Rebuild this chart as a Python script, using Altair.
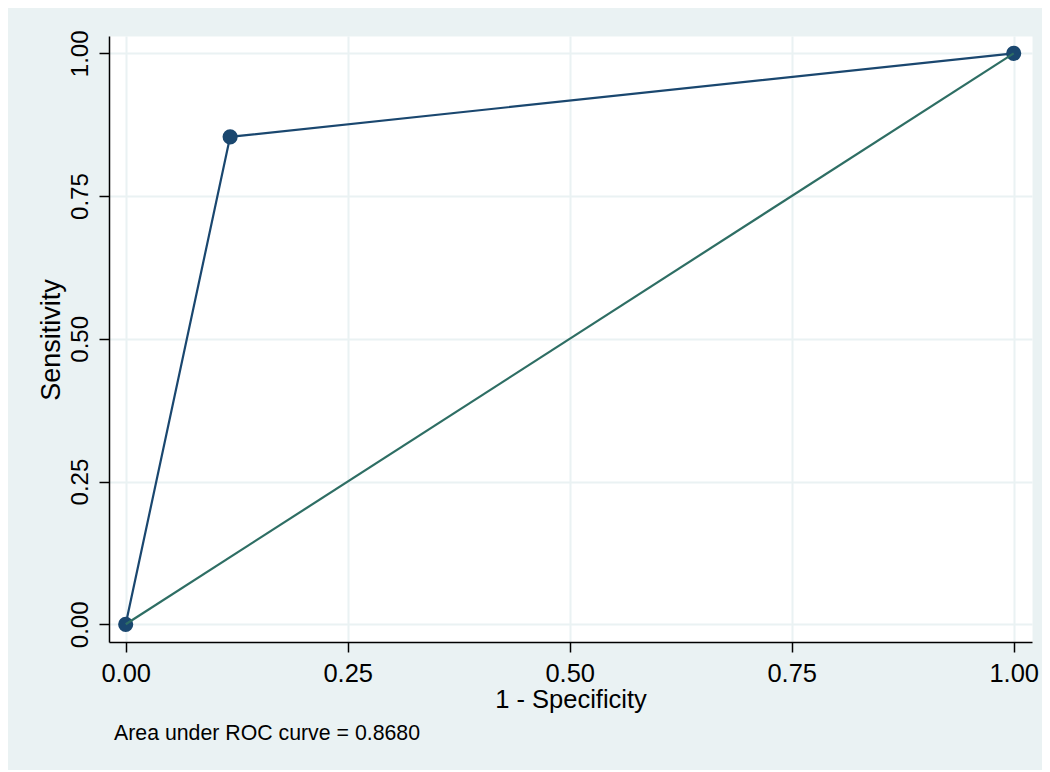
import altair as alt
import pandas as pd

# ROC points (1 - specificity, sensitivity)
fpr = [0.0, 0.1176, 1.0]
sens = [0.0, 0.8537, 1.0]
# reference (chance) line
ref_x = [0.0, 1.0]
ref_y = [0.0, 1.0]
tick_vals = [0.0, 0.25, 0.5, 0.75, 1.0]
note = "Area under ROC curve = 0.8680"

NAVY = "#1a476f"
TEAL = "#2e6e64"
BG = "#EAF2F3"
FONT = "Liberation Sans"

roc = pd.DataFrame({"fpr": fpr, "sens": sens})
ref = pd.DataFrame({"fpr": ref_x, "sens": ref_y})

xs = alt.Scale(domain=[-0.0188, 1.0206], nice=False, zero=False)
ys = alt.Scale(domain=[-0.031, 1.0303], nice=False, zero=False)

x_axis = alt.Axis(
    values=tick_vals, format=".2f", grid=True, gridColor=BG, gridWidth=2,
    domainColor="black", domainWidth=1.5, tickColor="black", tickWidth=1.5,
    tickSize=10, labelFont=FONT, labelFontSize=25.5, labelColor="black",
    labelPadding=9, labelFlush=False, labelOverlap=False,
    title="1 - Specificity", titleFont=FONT, titleFontSize=25.5,
    titleFontWeight="normal", titleColor="black", titleX=461.5, titleY=65,
    titleAlign="center", titleBaseline="alphabetic",
)
y_axis = alt.Axis(
    values=tick_vals, format=".2f", grid=True, gridColor=BG, gridWidth=2,
    domainColor="black", domainWidth=1.5, tickColor="black", tickWidth=1.5,
    tickSize=10, labelFont=FONT, labelFontSize=24, labelColor="black",
    labelAngle=270, labelAlign="center", labelBaseline="alphabetic",
    labelPadding=12, labelFlush=False, labelOverlap=False,
    title="Sensitivity", titleFont=FONT, titleFontSize=27,
    titleFontWeight="normal", titleColor="black", titleAngle=270,
    titleX=-50, titleY=303.5, titleAlign="center", titleBaseline="alphabetic",
)

base = alt.Chart(roc).encode(
    x=alt.X("fpr:Q", scale=xs, axis=x_axis),
    y=alt.Y("sens:Q", scale=ys, axis=y_axis),
)
roc_line = base.mark_line(color=NAVY, strokeWidth=2.2)
roc_pts = base.mark_point(filled=True, color=NAVY, size=230, opacity=1, shape="circle")

ref_line = alt.Chart(ref).mark_line(color=TEAL, strokeWidth=2.2).encode(
    x=alt.X("fpr:Q", scale=xs),
    y=alt.Y("sens:Q", scale=ys),
)

note_txt = alt.Chart(pd.DataFrame({"t": [note]})).mark_text(
    align="left", baseline="alphabetic", font=FONT, fontSize=21.3, color="black"
).encode(x=alt.value(5), y=alt.value(704), text="t:N")

chart = alt.layer(roc_line, roc_pts, ref_line, note_txt).properties(
    width=923, height=606, background=BG,
    padding={"left": 101, "top": 28, "right": 10, "bottom": 128},
    autosize=alt.AutoSizeParams(type="none"),
).configure_view(fill="white", stroke="transparent")

chart.save("out.html", embed_options={"renderer": "svg", "actions": False})
